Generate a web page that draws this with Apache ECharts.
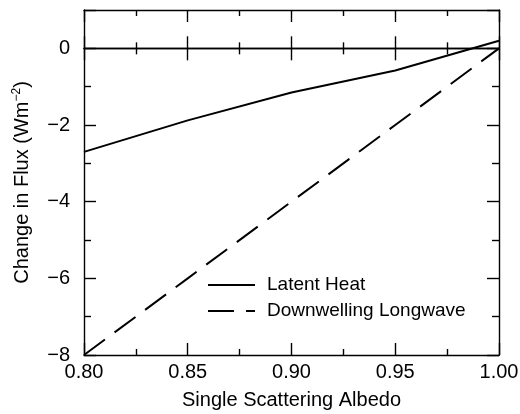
<!DOCTYPE html>
<html>
<head>
<meta charset="utf-8">
<script src="https://cdn.jsdelivr.net/npm/echarts@6/dist/echarts.min.js"></script>
<style>
html,body{margin:0;padding:0;background:#fff;}
#chart{width:520px;height:414px;}
</style>
</head>
<body>
<div id="chart"></div>
<script>
const albedo = [0.80, 0.85, 0.90, 0.95, 1.00];
const latentHeat = [-2.70, -1.88, -1.15, -0.58, 0.20];
const downwellingLongwave = [-8, -6, -4, -2, 0];
const seriesNames = ['Latent Heat', 'Downwelling Longwave'];
const xTitle = 'Single Scattering Albedo';
const yTitleMain = 'Change in Flux (Wm';
const yTitleSup = '\u22122';

const FONT = 'Liberation Sans, Arial, Helvetica, sans-serif';
const INK = '#000';
const AXW = 1.4;
const gridRect = {left: 84, right: 21, top: 10, bottom: 59, outerBoundsMode: 'none'};

const xBase = {type: 'value', min: 0.80, max: 1.00, interval: 0.05};
const yBase = {type: 'value', min: -8, max: 1, interval: 2};

function fmtY(v) { return v < 0 ? '\u2212' + Math.abs(v) : String(v); }

const chart = echarts.init(document.getElementById('chart'), null, {renderer: 'canvas'});
chart.setOption({
  animation: false,
  backgroundColor: '#fff',
  grid: [
    Object.assign({}, gridRect),
    Object.assign({}, gridRect),
    Object.assign({}, gridRect)
  ],
  xAxis: [
    Object.assign({}, xBase, {
      gridIndex: 0, position: 'bottom',
      axisLine: {onZero: false, lineStyle: {color: INK, width: AXW}},
      axisTick: {inside: true, length: 12, lineStyle: {color: INK, width: AXW}},
      minorTick: {show: true, splitNumber: 2, length: 6, lineStyle: {color: INK, width: AXW}},
      splitLine: {show: false},
      axisLabel: {color: INK, fontFamily: FONT, fontSize: 20, margin: 7,
        formatter: v => v.toFixed(2)},
      name: xTitle, nameLocation: 'middle', nameGap: 35,
      nameTextStyle: {color: INK, fontFamily: FONT, fontSize: 20}
    }),
    Object.assign({}, xBase, {
      gridIndex: 0, position: 'top',
      axisLine: {onZero: false, lineStyle: {color: INK, width: AXW}},
      axisTick: {inside: true, length: 12, lineStyle: {color: INK, width: AXW}},
      minorTick: {show: true, splitNumber: 2, length: 6, lineStyle: {color: INK, width: AXW}},
      splitLine: {show: false},
      axisLabel: {show: false}
    }),
    Object.assign({}, xBase, {
      gridIndex: 1, position: 'bottom',
      axisLine: {onZero: true, lineStyle: {color: INK, width: AXW}},
      axisTick: {inside: false, length: 12, lineStyle: {color: INK, width: AXW}},
      minorTick: {show: true, splitNumber: 2, length: 6, lineStyle: {color: INK, width: AXW}},
      splitLine: {show: false},
      axisLabel: {show: false}
    }),
    Object.assign({}, xBase, {
      gridIndex: 2, position: 'top',
      axisLine: {onZero: true, lineStyle: {color: INK, width: AXW}},
      axisTick: {inside: false, length: 12, lineStyle: {color: INK, width: AXW}},
      minorTick: {show: true, splitNumber: 2, length: 6, lineStyle: {color: INK, width: AXW}},
      splitLine: {show: false},
      axisLabel: {show: false}
    })
  ],
  yAxis: [
    Object.assign({}, yBase, {
      gridIndex: 0, position: 'left',
      axisLine: {onZero: false, lineStyle: {color: INK, width: AXW}},
      axisTick: {inside: true, length: 12, lineStyle: {color: INK, width: AXW}},
      minorTick: {show: true, splitNumber: 2, length: 7, lineStyle: {color: INK, width: AXW}},
      splitLine: {show: false},
      axisLabel: {color: INK, fontFamily: FONT, fontSize: 20, margin: 14,
        showMaxLabel: false,
        formatter: v => (v === 1 ? '' : fmtY(v))},
      name: '{a|' + yTitleMain + '}{s|' + yTitleSup + '}{a|)}',
      nameLocation: 'middle', nameGap: 51,
      nameTextStyle: {
        color: INK, fontFamily: FONT, fontSize: 20,
        rich: {
          a: {color: INK, fontFamily: FONT, fontSize: 20},
          s: {color: INK, fontFamily: FONT, fontSize: 12, verticalAlign: 'top', padding: [0, 0, 10, 0]}
        }
      }
    }),
    Object.assign({}, yBase, {
      gridIndex: 0, position: 'right',
      axisLine: {onZero: false, lineStyle: {color: INK, width: AXW}},
      axisTick: {inside: true, length: 12, lineStyle: {color: INK, width: AXW}},
      minorTick: {show: true, splitNumber: 2, length: 7, lineStyle: {color: INK, width: AXW}},
      splitLine: {show: false},
      axisLabel: {show: false}
    }),
    Object.assign({}, yBase, {
      gridIndex: 1, show: false, splitLine: {show: false}
    }),
    Object.assign({}, yBase, {
      gridIndex: 2, show: false, splitLine: {show: false}
    })
  ],
  legend: {
    orient: 'vertical',
    left: 207, top: 275, padding: 0,
    itemWidth: 47, itemHeight: 14, itemGap: 6,
    itemStyle: {color: 'transparent', borderColor: 'transparent', borderWidth: 0},
    textStyle: {color: INK, fontFamily: FONT, fontSize: 19, lineHeight: 20, padding: [0, 0, 0, 7]},
    data: seriesNames
  },
  series: [
    {
      name: seriesNames[0], type: 'line', xAxisIndex: 0, yAxisIndex: 0,
      data: albedo.map((x, i) => [x, latentHeat[i]]),
      symbol: 'none', showSymbol: false,
      lineStyle: {color: INK, width: 2},
      itemStyle: {color: INK}
    },
    {
      name: seriesNames[1], type: 'line', xAxisIndex: 0, yAxisIndex: 0,
      data: albedo.map((x, i) => [x, downwellingLongwave[i]]),
      symbol: 'none', showSymbol: false,
      lineStyle: {color: INK, width: 2, type: [26, 12]},
      itemStyle: {color: INK}
    }
  ]
});
</script>
</body>
</html>
